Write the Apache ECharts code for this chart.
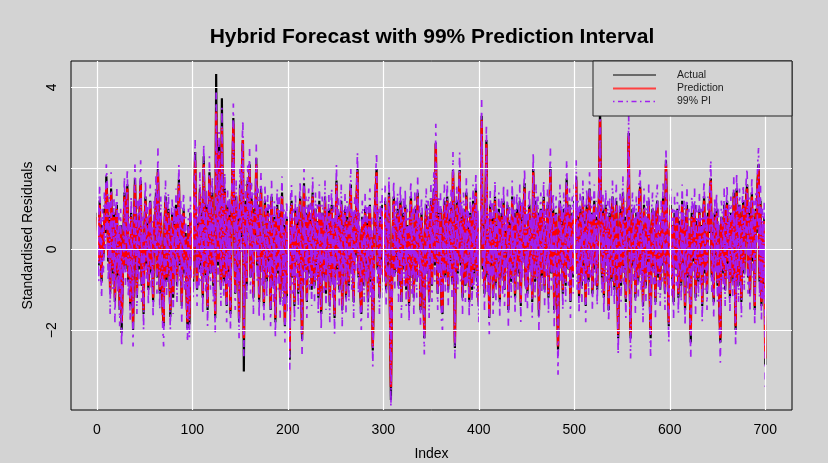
<!DOCTYPE html>
<html>
<head>
<meta charset="utf-8">
<script src="https://cdn.jsdelivr.net/npm/echarts@6/dist/echarts.min.js"></script>
<style>
html,body{margin:0;padding:0;background:#d3d3d3;}
#chart{width:828px;height:463px;}
</style>
</head>
<body>
<div id="chart"></div>
<script>
// Standardised residuals, index 1..700
const actual = [
0.9,-0.4,1.2,0.3,-0.8,0.6,-0.2,1.0,0.4,1.8,
1.2,-0.3,0.8,-1.1,1.5,0.2,-0.6,0.9,-1.3,0.5,
1.1,-0.7,0.3,-1.5,0.6,-2.07,-0.9,0.4,1.4,-0.5,
0.7,1.6,-0.8,0.2,-1.4,0.9,-0.3,-2.0,0.5,1.76,
0.3,-1.2,0.8,-0.5,1.1,1.7,-0.9,0.2,-1.6,0.6,
1.3,-0.4,0.7,-1.0,0.4,1.2,-0.6,0.1,-1.3,0.8,
0.3,1.4,-0.7,2.0,0.5,-1.1,0.9,-0.2,-1.5,-1.9,
0.6,1.3,-0.8,0.2,1.0,-0.5,-1.67,0.4,0.9,-1.2,
0.7,-0.3,1.1,-0.9,0.5,1.73,-0.4,0.8,-1.4,0.3,
1.0,-0.6,0.4,-1.1,-1.95,0.6,-1.85,0.9,-0.3,0.5,
-0.8,1.2,2.4,0.3,-1.0,0.7,-0.5,1.5,-0.4,0.9,
-1.2,2.3,0.6,-0.7,1.1,-1.5,0.4,1.9,-0.6,0.8,
1.4,-0.9,0.5,-1.7,4.33,1.2,-0.4,2.6,0.8,-1.0,
3.73,0.5,-0.8,1.5,0.3,-1.4,1.1,-0.6,0.9,-1.6,
0.7,1.8,3.24,0.4,-1.1,1.3,-0.5,0.8,-1.8,1.6,
0.3,2.0,2.7,-3.02,0.6,1.2,-0.9,1.7,0.4,2.1,
-0.7,1.3,0.5,-1.2,1.0,0.3,2.25,-0.4,1.1,-1.3,
0.8,1.5,-0.5,0.2,-1.4,1.2,0.6,-0.8,1.0,-0.3,
0.7,-1.5,1.3,0.2,-0.9,0.8,-1.8,0.5,1.1,-0.6,
0.9,-1.3,0.4,1.4,-1.0,0.6,-1.9,0.3,0.8,-1.2,
0.5,-2.73,0.9,1.2,-0.7,0.4,-1.4,1.0,-0.3,0.7,
-1.1,0.6,1.3,-0.8,-2.24,0.2,1.63,-0.5,0.9,-1.3,
0.4,1.1,-0.6,0.8,-1.0,1.4,0.3,-0.9,1.0,-0.4,
0.7,-1.2,1.2,0.1,-1.6,0.9,0.5,-0.7,1.3,-1.1,
0.6,-0.3,1.0,-1.4,0.4,1.1,-0.8,0.7,-1.7,0.2,
1.7,-0.5,0.9,-1.0,0.3,1.2,-1.5,0.6,-0.4,1.0,
-1.2,0.8,0.2,-0.9,1.1,1.6,-0.6,0.4,-1.3,0.9,
-0.2,1.2,1.98,-0.7,0.5,-1.1,-1.6,0.8,0.3,-0.9,
1.0,-0.4,0.7,-1.3,0.6,1.1,-0.8,0.2,-2.5,-1.0,
0.9,1.4,2.0,-0.5,0.6,-1.2,0.8,-0.3,1.1,-0.8,
0.4,1.2,-1.0,0.6,-0.4,1.4,-1.5,-3.72,-1.2,0.5,
1.3,-0.6,0.8,-0.2,1.0,-0.9,0.5,1.2,-1.3,0.3,
0.9,-0.5,1.1,-1.0,0.6,0.2,-1.4,0.8,1.3,-0.7,
0.4,-1.2,1.0,0.5,-0.8,1.4,-0.3,0.7,-1.5,0.9,
0.2,-1.0,-2.2,0.6,1.1,-0.6,0.8,-1.3,0.4,1.2,
-0.9,0.7,1.5,-0.4,2.63,0.3,-1.1,0.9,-0.5,1.0,
-1.4,-1.6,0.6,1.2,-0.7,0.4,1.3,-1.0,0.8,-0.3,
1.1,-0.8,1.96,0.5,-2.44,0.2,1.2,-0.6,0.9,1.96,
-0.4,0.8,-1.2,1.0,0.3,-0.9,1.4,-0.5,0.6,-1.3,
0.9,0.2,-1.0,1.2,-0.6,0.7,1.5,-0.8,0.4,-1.4,
0.8,1.3,3.3,-0.5,0.6,-1.1,1.0,2.7,-0.7,0.3,
-1.7,1.1,-0.4,0.8,-1.2,0.5,1.3,-0.9,0.6,-0.3,
1.0,-1.3,0.4,0.9,-0.7,1.2,-1.0,0.5,-0.2,1.1,
-1.5,0.7,0.3,-0.8,1.3,-0.5,0.9,-1.2,0.6,1.0,
-0.6,0.2,1.2,-1.4,0.8,-0.3,1.0,1.63,-0.9,0.4,
-1.1,0.7,1.1,-0.5,0.3,-1.3,1.98,0.6,-0.8,1.2,
-0.4,0.9,-1.65,0.5,1.0,-0.7,0.3,1.3,-1.0,0.6,
-0.3,1.1,-1.2,0.8,2.03,-0.6,0.4,1.0,-1.5,0.2,
0.9,-0.8,-2.48,0.5,1.2,-0.4,0.7,-1.1,1.0,0.3,
-0.9,1.75,0.6,-0.5,1.1,-1.3,0.4,0.9,-0.7,1.2,
0.5,1.8,-0.6,0.8,-1.2,1.0,0.3,-0.9,1.3,-0.4,
0.7,-1.4,1.1,0.4,-0.8,1.5,-0.3,0.9,-1.1,0.6,
1.2,-0.5,0.8,-1.0,0.4,1.4,3.6,0.6,-0.7,1.0,
-1.2,0.5,1.1,-0.4,0.8,-1.5,0.9,0.3,-0.8,1.3,
0.2,-1.0,0.7,1.2,-0.6,-2.2,0.4,1.0,-0.9,0.6,
1.4,-0.5,0.8,-1.3,0.3,1.1,2.87,-0.7,-2.2,0.5,
1.0,-0.4,0.7,-1.2,0.9,0.2,-0.8,1.3,1.55,-0.6,
0.5,-1.4,1.1,0.3,-0.9,0.8,-0.3,1.2,-1.1,-2.2,
0.6,1.0,-0.5,0.4,-1.3,0.9,1.2,-0.7,0.3,-1.0,
0.8,-0.4,1.3,0.5,-1.1,2.2,0.7,-0.6,-1.9,0.4,
1.1,-0.8,0.6,-1.3,0.9,0.2,-0.5,1.0,-1.2,0.7,
0.3,-0.9,1.2,-0.4,0.8,-1.5,0.5,1.1,-0.7,0.4,
-1.0,-2.3,0.9,0.6,-0.3,1.1,-1.2,0.7,0.2,-0.8,
1.0,-0.5,0.6,-1.4,0.8,1.3,-0.6,0.3,-1.1,0.9,
0.4,1.2,1.75,-0.7,0.5,-1.3,0.9,-0.2,1.0,-0.9,
0.6,-1.5,-2.3,0.8,0.3,-0.6,1.1,-1.0,0.5,1.2,
-0.4,0.7,-1.2,0.9,0.3,-0.8,1.4,-0.5,-2.0,1.5,
0.6,-0.9,1.1,0.2,-1.3,0.8,1.2,-0.6,0.4,1.3,
1.6,-0.7,0.9,-1.1,0.5,1.4,-0.3,0.8,-1.5,1.0,
0.4,1.7,2.1,-0.8,1.2,-1.4,0.6,-0.9,0.8,-2.85
];

const prediction = [
0.8,-0.3,1.1,0.3,-0.7,0.5,-0.1,0.9,0.5,1.6,
1.1,-0.2,0.7,-1.0,1.4,0.3,-0.5,0.8,-1.2,0.4,
1.0,-0.6,0.4,-1.4,0.5,-1.8,-0.8,0.3,1.3,-0.4,
0.6,1.5,-0.7,0.3,-1.3,0.8,-0.2,-1.8,0.4,1.6,
0.4,-1.1,0.7,-0.4,1.0,1.6,-0.8,0.3,-1.5,0.5,
1.2,-0.3,0.6,-0.9,0.5,1.1,-0.5,0.2,-1.2,0.7,
0.4,1.3,-0.6,1.9,0.4,-1.0,0.8,-0.1,-1.4,-1.8,
0.5,1.2,-0.7,0.3,0.9,-0.4,-1.5,0.3,0.8,-1.1,
0.6,-0.2,1.0,-0.8,0.4,1.6,-0.3,0.7,-1.3,0.4,
0.9,-0.5,0.3,-1.0,-1.8,0.5,-1.7,0.8,-0.2,0.4,
-0.7,1.1,2.2,0.4,-0.9,0.6,-0.4,1.4,-0.3,0.8,
-1.1,2.1,0.5,-0.6,1.0,-1.4,0.5,1.8,-0.5,0.7,
1.3,-0.8,0.4,-1.6,3.4,1.1,-0.3,2.4,0.7,-0.9,
3.0,0.4,-0.7,1.4,0.4,-1.3,1.0,-0.5,0.8,-1.5,
0.6,1.7,3.1,0.5,-1.0,1.2,-0.4,0.7,-1.7,1.5,
0.4,1.9,2.7,-2.2,0.5,1.1,-0.8,1.6,0.5,2.0,
-0.6,1.2,0.6,-1.1,0.9,0.4,2.1,-0.3,1.0,-1.2,
0.7,1.4,-0.4,0.3,-1.3,1.1,0.5,-0.7,0.9,-0.2,
0.6,-1.4,1.2,0.3,-0.8,0.7,-1.7,0.4,1.0,-0.5,
0.8,-1.2,0.5,1.3,-0.9,0.5,-1.8,0.4,0.7,-1.1,
0.4,-2.5,0.8,1.1,-0.6,0.5,-1.3,0.9,-0.2,0.6,
-1.0,0.5,1.2,-0.7,-2.1,0.3,1.5,-0.4,0.8,-1.2,
0.5,1.0,-0.5,0.7,-0.9,1.3,0.4,-0.8,0.9,-0.3,
0.6,-1.1,1.1,0.2,-1.5,0.8,0.4,-0.6,1.2,-1.0,
0.5,-0.2,0.9,-1.3,0.5,1.0,-0.7,0.6,-1.6,0.3,
1.6,-0.4,0.8,-0.9,0.4,1.1,-1.4,0.5,-0.3,0.9,
-1.1,0.7,0.3,-0.8,1.0,1.5,-0.5,0.5,-1.2,0.8,
-0.1,1.1,1.9,-0.6,0.4,-1.0,-1.5,0.7,0.4,-0.8,
0.9,-0.3,0.6,-1.2,0.5,1.0,-0.7,0.3,-2.4,-0.9,
0.8,1.3,1.9,-0.4,0.5,-1.1,0.7,-0.2,1.0,-0.7,
0.5,1.1,-0.9,0.5,-0.3,1.3,-1.4,-3.4,-1.1,0.4,
1.2,-0.5,0.7,-0.1,0.9,-0.8,0.4,1.1,-1.2,0.4,
0.8,-0.4,1.0,-0.9,0.5,0.3,-1.3,0.7,1.2,-0.6,
0.5,-1.1,0.9,0.4,-0.7,1.3,-0.2,0.6,-1.4,0.8,
0.3,-0.9,-2.1,0.5,1.0,-0.5,0.7,-1.2,0.5,1.1,
-0.8,0.6,1.4,-0.3,2.6,0.4,-1.0,0.8,-0.4,0.9,
-1.3,-1.5,0.5,1.1,-0.6,0.5,1.2,-0.9,0.7,-0.2,
1.0,-0.7,1.9,0.4,-2.3,0.3,1.1,-0.5,0.8,1.9,
-0.3,0.7,-1.1,0.9,0.4,-0.8,1.3,-0.4,0.5,-1.2,
0.8,0.3,-0.9,1.1,-0.5,0.6,1.4,-0.7,0.5,-1.3,
0.7,1.2,3.2,-0.4,0.5,-1.0,0.9,2.6,-0.6,0.4,
-1.6,1.0,-0.3,0.7,-1.1,0.4,1.2,-0.8,0.5,-0.2,
0.9,-1.2,0.5,0.8,-0.6,1.1,-0.9,0.4,-0.1,1.0,
-1.4,0.6,0.4,-0.7,1.2,-0.4,0.8,-1.1,0.5,0.9,
-0.5,0.3,1.1,-1.3,0.7,-0.2,0.9,1.5,-0.8,0.5,
-1.0,0.6,1.0,-0.4,0.4,-1.2,1.9,0.5,-0.7,1.1,
-0.3,0.8,-1.5,0.4,0.9,-0.6,0.4,1.2,-0.9,0.5,
-0.2,1.0,-1.1,0.7,1.9,-0.5,0.5,0.9,-1.4,0.3,
0.8,-0.7,-2.4,0.4,1.1,-0.3,0.6,-1.0,0.9,0.4,
-0.8,1.6,0.5,-0.4,1.0,-1.2,0.5,0.8,-0.6,1.1,
0.4,1.7,-0.5,0.7,-1.1,0.9,0.4,-0.8,1.2,-0.3,
0.6,-1.3,1.0,0.5,-0.7,1.4,-0.2,0.8,-1.0,0.5,
1.1,-0.4,0.7,-0.9,0.5,1.3,3.2,0.5,-0.6,0.9,
-1.1,0.4,1.0,-0.3,0.7,-1.4,0.8,0.4,-0.7,1.2,
0.3,-0.9,0.6,1.1,-0.5,-2.1,0.3,0.9,-0.8,0.5,
1.3,-0.4,0.7,-1.2,0.4,1.0,2.8,-0.6,-2.1,0.4,
0.9,-0.3,0.6,-1.1,0.8,0.3,-0.7,1.2,1.5,-0.5,
0.4,-1.3,1.0,0.4,-0.8,0.7,-0.2,1.1,-1.0,-2.1,
0.5,0.9,-0.4,0.5,-1.2,0.8,1.1,-0.6,0.4,-0.9,
0.7,-0.3,1.2,0.4,-1.0,2.1,0.6,-0.5,-1.8,0.5,
1.0,-0.7,0.5,-1.2,0.8,0.3,-0.4,0.9,-1.1,0.6,
0.4,-0.8,1.1,-0.3,0.7,-1.4,0.4,1.0,-0.6,0.5,
-0.9,-2.1,0.8,0.5,-0.2,1.0,-1.1,0.6,0.3,-0.7,
0.9,-0.4,0.5,-1.3,0.7,1.2,-0.5,0.4,-1.0,0.8,
0.5,1.1,1.7,-0.6,0.4,-1.2,0.8,-0.1,0.9,-0.8,
0.5,-1.4,-2.2,0.7,0.4,-0.5,1.0,-0.9,0.4,1.1,
-0.3,0.6,-1.1,0.8,0.4,-0.7,1.3,-0.4,-1.9,1.4,
0.5,-0.8,1.0,0.3,-1.2,0.7,1.1,-0.5,0.5,1.2,
1.5,-0.6,0.8,-1.0,0.4,1.3,-0.2,0.7,-1.4,0.9,
0.5,1.6,2.0,-0.7,1.1,-1.3,0.5,-0.8,0.7,-2.7
];

const piUpper = [
1.3,0.2,1.6,0.8,-0.2,1.0,0.4,1.4,1.0,2.1,
1.6,0.3,1.3,-0.5,1.9,0.8,0.0,1.3,-0.7,0.9,
1.5,-0.1,0.9,-0.9,1.0,-1.3,-0.3,0.8,1.8,0.1,
1.1,2.0,-0.2,0.8,-0.8,1.3,0.3,-1.3,0.9,2.1,
0.9,-0.6,1.2,0.1,1.5,2.2,-0.3,0.8,-1.0,1.0,
1.7,0.2,1.1,-0.4,1.0,1.6,0.0,0.7,-0.7,1.2,
0.9,1.8,-0.1,2.5,0.9,-0.5,1.3,0.4,-0.9,-1.3,
1.0,1.7,-0.2,0.8,1.4,0.1,-1.0,0.8,1.3,-0.6,
1.1,0.3,1.5,-0.3,0.9,2.1,0.2,1.2,-0.8,0.9,
1.4,0.0,0.8,-0.5,-1.3,1.0,-1.2,1.3,0.3,0.9,
-0.2,1.6,2.7,0.9,-0.4,1.1,0.1,1.9,0.2,1.3,
-0.6,2.6,1.0,-0.1,1.5,-0.9,1.0,2.3,0.0,1.2,
1.8,-0.3,0.9,-1.1,3.9,1.6,0.2,2.9,1.2,-0.4,
3.5,0.9,-0.2,1.9,0.9,-0.8,1.5,0.0,1.3,-1.0,
1.1,2.2,3.6,1.0,-0.5,1.7,0.1,1.2,-1.2,2.0,
0.9,2.4,3.2,-1.7,1.0,1.6,-0.3,2.1,1.0,2.5,
-0.1,1.7,1.1,-0.6,1.4,0.9,2.6,0.2,1.5,-0.7,
1.2,1.9,0.1,0.8,-0.8,1.6,1.0,-0.2,1.4,0.3,
1.1,-0.9,1.7,0.8,-0.3,1.2,-1.2,0.9,1.5,0.0,
1.3,-0.7,1.0,1.8,-0.4,1.0,-1.3,0.9,1.2,-0.6,
0.9,-2.0,1.3,1.6,-0.1,1.0,-0.8,1.4,0.3,1.1,
-0.5,1.0,1.7,-0.2,-1.6,0.8,2.0,0.1,1.3,-0.7,
1.0,1.5,0.0,1.2,-0.4,1.8,0.9,-0.3,1.4,0.2,
1.1,-0.6,1.6,0.7,-1.0,1.3,0.9,-0.1,1.7,-0.5,
1.0,0.3,1.4,-0.8,1.0,1.5,-0.2,1.1,-1.1,0.8,
2.1,0.1,1.3,-0.4,0.9,1.6,-0.9,1.0,0.2,1.4,
-0.6,1.2,0.8,-0.3,1.5,2.0,0.0,1.0,-0.7,1.3,
0.4,1.6,2.4,-0.1,0.9,-0.5,-1.0,1.2,0.9,-0.3,
1.4,0.2,1.1,-0.7,1.0,1.5,-0.2,0.8,-1.9,-0.4,
1.3,1.8,2.4,0.1,1.0,-0.6,1.2,0.3,1.5,-0.2,
1.0,1.6,-0.4,1.0,0.2,1.8,-0.9,-2.9,-0.6,0.9,
1.7,0.0,1.2,0.4,1.4,-0.3,0.9,1.6,-0.7,0.9,
1.3,0.1,1.5,-0.4,1.0,0.8,-0.8,1.2,1.7,-0.1,
1.0,-0.6,1.4,0.9,-0.2,1.8,0.3,1.1,-0.9,1.3,
0.8,-0.4,-1.6,1.0,1.5,0.0,1.2,-0.7,1.0,1.6,
-0.3,1.1,1.9,0.2,3.1,0.9,-0.5,1.3,0.1,1.4,
-0.8,-1.0,1.0,1.6,-0.1,1.0,1.7,-0.4,1.2,0.3,
1.5,-0.2,2.4,0.9,-1.8,0.8,1.6,0.0,1.3,2.4,
0.2,1.2,-0.6,1.4,0.9,-0.3,1.8,0.1,1.0,-0.7,
1.3,0.8,-0.4,1.6,0.0,1.1,1.9,-0.2,1.0,-0.8,
1.2,1.7,3.7,0.1,1.0,-0.5,1.4,3.1,-0.1,0.9,
-1.1,1.5,0.2,1.2,-0.6,0.9,1.7,-0.3,1.0,0.3,
1.4,-0.7,1.0,1.3,-0.1,1.6,-0.4,0.9,0.4,1.5,
-0.9,1.1,0.9,-0.2,1.7,0.1,1.3,-0.6,1.0,1.4,
0.0,0.8,1.6,-0.8,1.2,0.3,1.4,2.0,-0.3,1.0,
-0.5,1.1,1.5,0.1,0.9,-0.7,2.4,1.0,-0.2,1.6,
0.2,1.3,-1.0,0.9,1.4,-0.1,0.9,1.7,-0.4,1.0,
0.3,1.5,-0.6,1.2,2.5,0.0,1.0,1.4,-0.9,0.8,
1.3,-0.2,-1.9,0.9,1.6,0.2,1.1,-0.5,1.4,0.9,
-0.3,2.2,1.0,0.1,1.5,-0.7,1.0,1.3,-0.1,1.6,
0.9,2.2,0.0,1.2,-0.6,1.4,0.9,-0.3,1.7,0.2,
1.1,-0.8,1.5,1.0,-0.2,1.9,0.3,1.3,-0.5,1.0,
1.6,0.1,1.2,-0.4,1.0,1.8,3.7,1.0,-0.1,1.4,
-0.6,0.9,1.5,0.2,1.2,-0.9,1.3,0.9,-0.2,1.7,
0.8,-0.4,1.1,1.6,0.0,-1.6,0.8,1.4,-0.3,1.0,
1.8,0.1,1.2,-0.7,0.9,1.5,3.3,-0.1,-1.6,0.9,
1.4,0.2,1.1,-0.6,1.3,0.8,-0.2,1.7,2.0,0.0,
0.9,-0.8,1.5,0.9,-0.3,1.2,0.3,1.6,-0.5,-1.6,
1.0,1.4,0.1,1.0,-0.7,1.3,1.6,-0.1,0.9,-0.4,
1.2,0.2,1.7,0.9,-0.5,2.5,1.1,0.0,-1.3,1.0,
1.5,-0.2,1.0,-0.7,1.3,0.8,0.1,1.4,-0.6,1.1,
0.9,-0.3,1.6,0.2,1.2,-0.9,0.9,1.5,-0.1,1.0,
-0.4,-1.6,1.3,1.0,0.3,1.5,-0.6,1.1,0.8,-0.2,
1.4,0.1,1.0,-0.8,1.2,1.7,0.0,0.9,-0.5,1.3,
1.0,1.6,2.2,-0.1,0.9,-0.7,1.3,0.4,1.4,-0.3,
1.0,-0.9,-1.7,1.2,0.9,0.0,1.5,-0.4,0.9,1.6,
0.2,1.1,-0.6,1.3,0.9,-0.2,1.8,0.1,-1.4,1.9,
1.0,-0.3,1.5,0.8,-0.7,1.2,1.6,0.0,1.0,1.7,
2.0,-0.1,1.3,-0.5,0.9,1.8,0.3,1.2,-0.9,1.4,
1.0,2.1,2.5,-0.2,1.6,-0.8,1.0,-0.3,1.2,-2.2
];

const piLower = [
0.3,-0.8,0.6,-0.2,-1.2,0.0,-0.6,0.4,0.0,1.1,
0.6,-0.8,0.2,-1.6,0.9,-0.2,-1.0,0.3,-1.8,-0.1,
0.5,-1.1,-0.1,-1.9,0.0,-2.4,-1.3,-0.2,0.8,-0.9,
0.1,1.0,-1.2,-0.2,-1.8,0.3,-0.7,-2.4,-0.1,1.1,
-0.1,-1.6,0.2,-0.9,0.5,1.1,-1.3,-0.2,-2.0,0.0,
0.7,-0.8,0.1,-1.4,0.0,0.6,-1.0,-0.3,-1.7,0.2,
-0.1,0.8,-1.1,1.4,-0.1,-1.5,0.3,-0.6,-1.9,-2.4,
0.0,0.7,-1.2,-0.2,0.4,-0.9,-2.0,-0.2,0.3,-1.6,
0.1,-0.7,0.5,-1.3,-0.1,1.1,-0.8,0.2,-1.8,-0.1,
0.4,-1.0,-0.2,-1.5,-2.3,0.0,-2.2,0.3,-0.7,-0.1,
-1.2,0.6,1.7,-0.1,-1.4,0.1,-0.9,0.9,-0.8,0.3,
-1.6,1.6,0.0,-1.1,0.5,-1.9,0.0,1.3,-1.0,0.2,
0.8,-1.3,-0.1,-2.1,2.9,0.6,-0.8,1.9,0.2,-1.4,
2.5,-0.1,-1.2,0.9,-0.1,-1.8,0.5,-1.0,0.3,-2.0,
0.1,1.2,2.6,0.0,-1.5,0.7,-0.9,0.2,-2.2,1.0,
-0.1,1.4,2.2,-2.7,0.0,0.6,-1.3,1.1,0.0,1.5,
-1.1,0.7,0.1,-1.6,0.4,-0.1,1.6,-0.8,0.5,-1.7,
0.2,0.9,-0.9,-0.2,-1.8,0.6,0.0,-1.2,0.4,-0.7,
0.1,-1.9,0.7,-0.2,-1.3,0.2,-2.2,-0.1,0.5,-1.0,
0.3,-1.7,0.0,0.8,-1.4,0.0,-2.3,-0.1,0.2,-1.6,
-0.1,-3.0,0.3,0.6,-1.1,0.0,-1.8,0.4,-0.7,0.1,
-1.5,0.0,0.7,-1.2,-2.6,-0.2,1.0,-0.9,0.3,-1.7,
0.0,0.5,-1.0,0.2,-1.4,0.8,-0.1,-1.3,0.4,-0.8,
0.1,-1.6,0.6,-0.3,-2.0,0.3,-0.1,-1.1,0.7,-1.5,
0.0,-0.7,0.4,-1.8,0.0,0.5,-1.2,0.1,-2.1,-0.2,
1.1,-0.9,0.3,-1.4,-0.1,0.6,-1.9,0.0,-0.8,0.4,
-1.6,0.2,-0.2,-1.3,0.5,1.0,-1.0,0.0,-1.7,0.3,
-0.6,0.6,1.4,-1.1,-0.1,-1.5,-2.0,0.2,-0.1,-1.3,
0.4,-0.8,0.1,-1.7,0.0,0.5,-1.2,-0.2,-2.9,-1.4,
0.3,0.8,1.4,-0.9,0.0,-1.6,0.2,-0.7,0.5,-1.2,
0.0,0.6,-1.4,0.0,-0.8,0.8,-1.9,-3.9,-1.6,-0.1,
0.7,-1.0,0.2,-0.6,0.4,-1.3,-0.1,0.6,-1.7,-0.1,
0.3,-0.9,0.5,-1.4,0.0,-0.2,-1.8,0.2,0.7,-1.1,
0.0,-1.6,0.4,-0.1,-1.2,0.8,-0.7,0.1,-1.9,0.3,
-0.2,-1.4,-2.6,0.0,0.5,-1.0,0.2,-1.7,0.0,0.6,
-1.3,0.1,0.9,-0.8,2.1,-0.1,-1.5,0.3,-0.9,0.4,
-1.8,-2.0,0.0,0.6,-1.1,0.0,0.7,-1.4,0.2,-0.7,
0.5,-1.2,1.4,-0.1,-2.7,-0.2,0.6,-1.0,0.3,1.4,
-0.8,0.2,-1.6,0.4,-0.1,-1.3,0.8,-0.9,0.0,-1.7,
0.3,-0.2,-1.4,0.6,-1.0,0.1,0.9,-1.2,0.0,-1.8,
0.2,0.7,2.7,-0.9,0.0,-1.5,0.4,2.1,-1.1,-0.1,
-2.1,0.5,-0.8,0.2,-1.6,-0.1,0.7,-1.3,0.0,-0.7,
0.4,-1.7,0.0,0.3,-1.1,0.6,-1.4,-0.1,-0.6,0.5,
-1.9,0.1,-0.1,-1.2,0.7,-0.9,0.3,-1.6,0.0,0.4,
-1.0,-0.2,0.6,-1.8,0.2,-0.7,0.4,1.0,-1.3,0.0,
-1.5,0.1,0.5,-0.9,-0.1,-1.7,1.4,0.0,-1.2,0.6,
-0.8,0.3,-2.0,-0.1,0.4,-1.1,-0.1,0.7,-1.4,0.0,
-0.7,0.5,-1.6,0.2,1.4,-1.0,0.0,0.4,-1.9,-0.2,
0.3,-1.2,-3.1,-0.1,0.6,-0.8,0.1,-1.5,0.4,-0.1,
-1.3,1.1,0.0,-0.9,0.5,-1.7,0.0,0.3,-1.1,0.6,
-0.1,1.2,-1.0,0.2,-1.6,0.4,-0.1,-1.3,0.7,-0.8,
0.1,-1.8,0.5,0.0,-1.2,0.9,-0.7,0.3,-1.5,0.0,
0.6,-0.9,0.2,-1.4,0.0,0.8,2.7,0.0,-1.1,0.4,
-1.6,-0.1,0.5,-0.8,0.2,-1.8,0.3,-0.1,-1.2,0.7,
-0.2,-1.4,0.1,0.6,-1.0,-2.6,-0.2,0.4,-1.3,0.0,
0.8,-0.9,0.2,-1.7,-0.1,0.5,2.3,-1.1,-2.7,-0.1,
0.4,-0.8,0.1,-1.6,0.3,-0.2,-1.2,0.7,1.0,-1.0,
-0.1,-1.8,0.5,-0.1,-1.3,0.2,-0.7,0.6,-1.5,-2.7,
0.0,0.4,-0.9,0.0,-1.7,0.3,0.6,-1.1,-0.1,-1.4,
0.2,-0.8,0.7,-0.1,-1.5,1.6,0.1,-1.0,-2.3,0.0,
0.5,-1.2,0.0,-1.7,0.3,-0.2,-0.9,0.4,-1.6,0.1,
-0.1,-1.3,0.6,-0.8,0.2,-1.9,-0.1,0.5,-1.1,0.0,
-1.4,-2.7,0.3,0.0,-0.7,0.5,-1.6,0.1,-0.2,-1.2,
0.4,-0.9,0.0,-1.8,0.2,0.7,-1.0,-0.1,-1.5,0.3,
0.0,0.6,1.2,-1.1,-0.1,-1.7,0.3,-0.6,0.4,-1.3,
0.0,-1.9,-2.8,0.2,-0.1,-1.0,0.5,-1.4,-0.1,0.6,
-0.8,0.1,-1.6,0.3,-0.1,-1.2,0.8,-0.9,-2.4,0.9,
0.0,-1.3,0.5,-0.2,-1.7,0.2,0.6,-1.0,0.0,0.7,
1.0,-1.1,0.3,-1.5,-0.1,0.8,-0.7,0.2,-1.9,0.4,
0.0,1.1,1.5,-1.2,0.6,-1.8,0.0,-1.3,0.2,-3.4
];

const xTicks = [0, 100, 200, 300, 400, 500, 600, 700];
const yTicks = [-2, 0, 2, 4];
const titleText = 'Hybrid Forecast with 99% Prediction Interval';
const xName = 'Index';
const yName = 'Standardised Residuals';
const legendNames = ['Actual', 'Prediction', '99% PI'];

const FONT = '"Liberation Sans", Arial, Helvetica, sans-serif';
const PURPLE = '#A020F0';
const toPairs = arr => arr.map((v, i) => [i + 1, v]);

const chart = echarts.init(document.getElementById('chart'), null, {renderer: 'canvas'});

const gridLines = [];
xTicks.forEach(v => gridLines.push({xAxis: v}));
yTicks.forEach(v => gridLines.push({yAxis: v}));

const lx = 593, ly = 61, lw = 199, lh = 55;

chart.setOption({
  animation: false,
  backgroundColor: '#d3d3d3',
  textStyle: {fontFamily: FONT},
  grid: {left: 71, top: 61, width: 721, height: 349, show: true,
         outerBoundsMode: 'none', containLabel: false,
         borderColor: '#000', borderWidth: 1, backgroundColor: 'transparent'},
  xAxis: {
    type: 'value', min: -27, max: 728,
    axisLine: {show: false},
    splitLine: {show: false},
    axisTick: {show: true, inside: false, length: 6, customValues: xTicks,
               lineStyle: {color: '#000', width: 1}},
    axisLabel: {customValues: xTicks, color: '#000', fontSize: 14, margin: 13, fontFamily: FONT},
    name: xName, nameLocation: 'middle', nameGap: 37,
    nameTextStyle: {color: '#000', fontSize: 14, fontFamily: FONT}
  },
  yAxis: {
    type: 'value', min: -3.97, max: 4.65,
    axisLine: {show: false},
    splitLine: {show: false},
    axisTick: {show: true, inside: false, length: 6, customValues: yTicks,
               lineStyle: {color: '#000', width: 1}},
    axisLabel: {customValues: yTicks, color: '#000', fontSize: 14, margin: 12, rotate: 90,
                fontFamily: FONT, formatter: v => String(v).replace('-', '\u2212')},
    name: yName, nameLocation: 'middle', nameGap: 36,
    nameTextStyle: {color: '#000', fontSize: 14, fontFamily: FONT}
  },
  graphic: [
    {type: 'text', z: 50, style: {text: titleText, x: 432, y: 37, align: 'center', verticalAlign: 'middle',
      font: 'bold 21px ' + FONT, fill: '#000'}},
    {type: 'rect', z: 50, shape: {x: lx, y: ly, width: lw, height: lh},
      style: {fill: '#d3d3d3', stroke: '#222', lineWidth: 1}},
    {type: 'line', z: 51, shape: {x1: 613, y1: 75, x2: 656, y2: 75}, style: {stroke: '#000', lineWidth: 1}},
    {type: 'line', z: 51, shape: {x1: 613, y1: 88.5, x2: 656, y2: 88.5}, style: {stroke: '#ff4040', lineWidth: 2}},
    {type: 'line', z: 51, shape: {x1: 613, y1: 101.5, x2: 656, y2: 101.5},
      style: {stroke: PURPLE, lineWidth: 1.3, lineDash: [1.5, 3.5, 5, 3.5]}},
    {type: 'text', z: 51, style: {text: legendNames[0], x: 677, y: 75, verticalAlign: 'middle', font: '10.5px ' + FONT, fill: '#222'}},
    {type: 'text', z: 51, style: {text: legendNames[1], x: 677, y: 88.5, verticalAlign: 'middle', font: '10.5px ' + FONT, fill: '#222'}},
    {type: 'text', z: 51, style: {text: legendNames[2], x: 677, y: 101.5, verticalAlign: 'middle', font: '10.5px ' + FONT, fill: '#222'}}
  ],
  series: [
    {name: 'Actual', type: 'line', data: toPairs(actual), showSymbol: false, z: 2,
     lineStyle: {color: '#000', width: 2.2}},
    {name: 'Prediction', type: 'line', data: toPairs(prediction), showSymbol: false, z: 3,
     lineStyle: {color: '#ff0000', width: 2.4}},
    {name: 'Upper 99% PI', type: 'line', data: toPairs(piUpper), showSymbol: false, z: 4,
     lineStyle: {color: PURPLE, width: 1.7, type: [2, 6, 7, 6]}},
    {name: 'Lower 99% PI', type: 'line', data: toPairs(piLower), showSymbol: false, z: 4,
     lineStyle: {color: PURPLE, width: 1.7, type: [2, 6, 7, 6]}},
    {name: 'grid', type: 'line', data: [], zlevel: 1, z: 60, silent: true,
     markLine: {silent: true, symbol: ['none', 'none'], label: {show: false},
       lineStyle: {color: '#ffffff', width: 1.2, type: 'solid'},
       emphasis: {disabled: true}, animation: false, data: gridLines}}
  ]
});
</script>
</body>
</html>
